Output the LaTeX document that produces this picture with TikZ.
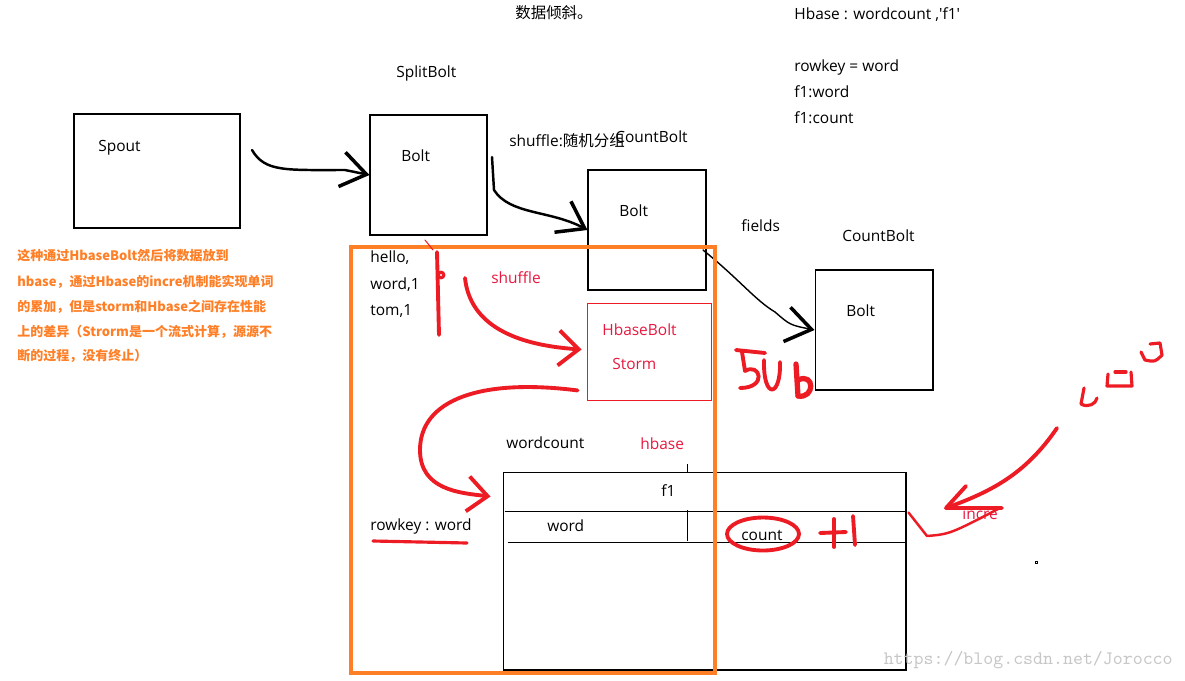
\documentclass[tikz,border=0pt]{standalone}
\usepackage{fontspec}
\setmainfont{Open Sans}
\newfontfamily\cjk{Noto Sans CJK SC}
\usetikzlibrary{arrows.meta, positioning, calc}
\definecolor{pen}{RGB}{237,28,36}
\definecolor{mark}{RGB}{232,24,64}
\definecolor{warn}{RGB}{255,127,39}

\begin{document}
\begin{tikzpicture}[x=0.02cm, y=-0.02cm,
      box/.style={rectangle, draw=black, line width=0.6pt, inner sep=0pt},
      lbl/.style={font=\fontsize{8.8}{10}\selectfont, inner sep=0pt, anchor=west},
      redlbl/.style={lbl, text=mark},
      note/.style={font=\cjk\bfseries\fontsize{7.4}{8}\selectfont, text=warn, inner sep=0pt, anchor=west},
      hand/.style={line width=1.4pt, line cap=round,
                   -{Straight Barb[length=5mm, width=7mm, line width=2pt]}},
      pen/.style={draw=pen, line width=2.2pt, line cap=round, line join=round},
      penarr/.style={pen, -{Straight Barb[length=4mm, width=7mm]}}
    ]
    \useasboundingbox[fill=white] (0,0) rectangle (1185,680);

    % storm topology
    \node[box, minimum width=3.32cm, minimum height=2.28cm] (spout) at (157,171) {};
    \node[box, minimum width=2.34cm, minimum height=2.4cm] (split) at (428.5,175) {};
    \node[box, minimum width=2.36cm, minimum height=2.4cm] (count) at (647,230) {};
    \node[box, minimum width=2.36cm, minimum height=2.4cm] (sum) at (874,330) {};
    \node[box, draw=pen, line width=0.5pt, minimum width=2.48cm, minimum height=1.94cm] (hbolt) at (649,351.5) {};

    \node[lbl] at (98,148) {Spout};
    \node[lbl] at (396,73) {SplitBolt};
    \node[lbl] at (401,156) {Bolt};
    \node[lbl] at (509,141) {shuffle:{\cjk 随机分组}};
    \node[lbl] at (615,137) {CountBolt};
    \node[lbl] at (619,211) {Bolt};
    \node[lbl] at (741,226) {fields};
    \node[lbl] at (842,236) {CountBolt};
    \node[lbl] at (846,311) {Bolt};
    \node[redlbl] at (602,330) {HbaseBolt};
    \node[redlbl] at (612,364) {Storm};

    \coordinate (a1) at (252,150);
    \coordinate (a2) at (492,157);
    \coordinate (a3) at (703,250);
    \draw[hand] (a1) .. controls (265,172) and (285,170) .. (345,170) -- (split.west);
    \draw[hand] (a2) -- (494,190) .. controls (510,215) and (550,210) .. (count.west);
    \draw[hand, line width=0.8pt] (a3) .. controls (740,280) and (755,300) .. (775,312)
        .. controls (790,325) .. (sum.west);

    % top notes
    \node[lbl] at (515,13) {\cjk 数据倾斜。};
    \node[lbl] at (794,15) {Hbase : wordcount ,\textquotesingle f1\textquotesingle};
    \node[lbl] at (794,67) {rowkey = word};
    \node[lbl] at (794,92) {f1:word};
    \node[lbl] at (794,118) {f1:count};

    \node[note] at (17,256) {这种通过HbaseBolt然后将数据放到};
    \node[note] at (17,282) {hbase，通过Hbase的incre机制能实现单词};
    \node[note] at (17,307) {的累加，但是storm和Hbase之间存在性能};
    \node[note] at (17,332) {上的差异（Strorm是一个流式计算，源源不};
    \node[note] at (17,356) {断的过程，没有终止）};

    % hbase table
    \node[box, minimum width=8.06cm, minimum height=3.96cm] (tbl) at (704.5,571) {};
    \draw[line width=0.6pt] ($(tbl.north west)+(2,40)$) -- ($(tbl.north east)+(0,40)$);
    \draw[line width=0.6pt] ($(tbl.north west)+(5,71)$) -- ($(tbl.north east)+(0,71)$);
    \draw[line width=0.5pt] (687,510) -- (687,541);
    \draw[line width=0.4pt] (687,464) -- (687,472);
    \node[lbl] at (506,443) {wordcount};
    \node[redlbl] at (640,444) {hbase};
    \node[lbl] at (661,491) {f1};
    \node[lbl] at (547,526) {word};
    \node[lbl] at (741,535) {count};
    \node[lbl] at (370,526) {rowkey : word};

    \node[lbl] at (370,258) {hello,};
    \node[lbl] at (370,285) {word,1};
    \node[lbl] at (370,311) {tom,1};
    \node[redlbl] at (491,278) {shuffle};
    \node[redlbl] at (962,514) {incre};

    \node[draw=warn, line width=2.6pt, inner sep=0pt, minimum width=7.28cm,
          minimum height=8.52cm] (zone) at (533,460) {};

    % hand-drawn marks
    \draw[pen, line width=0.6pt] (425,240) -- (433,250);
    \draw[pen] (437,252) -- (439,335);
    \draw[pen, line width=1.8pt] (441,275) circle (1.6pt);
    \draw[penarr] (465,278) .. controls (470,325) and (515,345) .. ($(hbolt.west)+(-5,-2)$);
    \draw[penarr] ($(hbolt.south west)+(-9,-10)$) .. controls (480,378) and (420,400) .. (420,450)
        .. controls (420,490) and (460,493) .. ($(tbl.north west)+(-12,25)$);
    \draw[pen, line width=1.8pt] (373,541) -- (467,543);
    \draw[pen] (763,534) ellipse [x radius=0.72cm, y radius=0.33cm];
    \draw[pen] (820,533) -- (846,532);
    \draw[pen] (834,519) -- (834,547);
    \draw[pen] (853,516) -- (855,545);
    % 506
    \draw[pen] (736,350) -- (765,353);
    \draw[pen] (742,352) -- (745,371) .. controls (760,362) and (768,388) .. (740,388);
    \draw[pen] (764,360) .. controls (763,400) and (781,398) .. (780,362);
    \draw[pen, line width=3pt] (796,364) -- (798,396);
    \draw[pen, line width=3pt] (798,380) .. controls (815,372) and (815,399) .. (798,396);
    % incre
    \draw[pen] (1057,428) .. controls (1025,475) and (990,492) .. (946,508);
    \draw[pen] (966,486) -- (946,508) -- (1002,508);
    \draw[pen, line width=1.4pt] ($(tbl.north east)+(2,41)$) -- (927,536) .. controls (950,534) .. (1000,508);
    \draw[pen, line width=1.8pt] (1084,388) -- (1081,404) .. controls (1088,408) and (1096,404) .. (1097,398);
    \draw[pen, line width=1.8pt] (1108,374) -- (1107,386) -- (1132,386) -- (1131,372);
    \draw[pen, line width=1.8pt] (1115,372) -- (1126,372);
    \draw[pen, line width=1.8pt] (1150,344) -- (1160,343) -- (1162,355) .. controls (1155,362) .. (1145,360) -- (1141,352);

    \draw[line width=0.4pt] (1035,561) rectangle (1037,563);
    \node[font=\ttfamily\fontsize{10.8}{12}\selectfont, text=black!22, inner sep=0pt, anchor=east]
        (wm) at (1173,660) {https://blog.csdn.net/Jorocco};
\end{tikzpicture}
\end{document}
